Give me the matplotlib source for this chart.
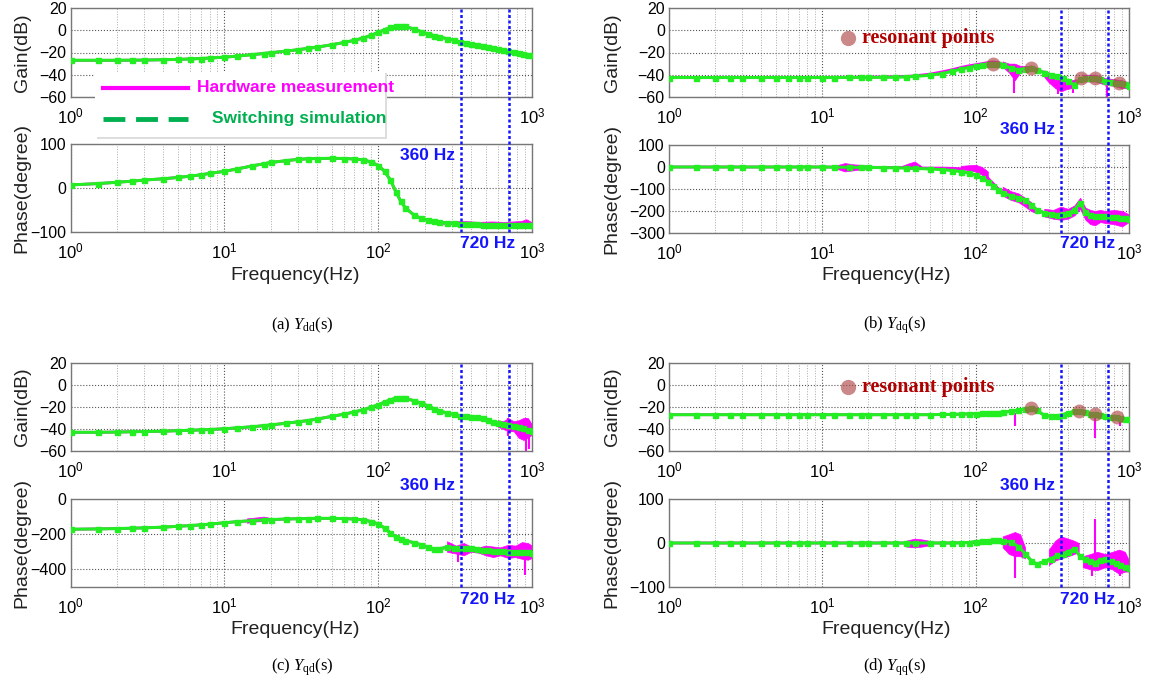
import matplotlib
matplotlib.use("Agg")
import matplotlib.pyplot as plt
from matplotlib.lines import Line2D
from matplotlib.patches import Rectangle
from matplotlib.ticker import LogLocator, NullFormatter

plt.rcParams['font.family'] = ['Liberation Sans', 'DejaVu Sans']
plt.rcParams['mathtext.fontset'] = 'custom'
plt.rcParams['mathtext.rm'] = 'Liberation Serif'
plt.rcParams['mathtext.it'] = 'Liberation Serif:italic'
plt.rcParams['mathtext.sf'] = 'Liberation Sans'

# frequency grid of the simulation points (Hz)
freq = [1, 1.5, 2, 2.5, 3, 4, 5, 6, 7, 8,
        10, 12, 15, 18, 20, 25, 30, 35, 40, 50,
        60, 70, 80, 90, 100, 110, 120, 130, 140, 150,
        170, 190, 210, 230, 250, 280, 310, 340, 370, 400,
        440, 480, 520, 560, 600, 650, 700, 760, 820, 880,
        940, 1000]

# (a) Ydd
gain_dd = [-27, -27, -27, -26.9, -26.8, -26.5, -26.2, -25.8, -25.4, -25,
           -24.2, -23.3, -22, -20.9, -20.2, -18.8, -17.5, -16.3, -15.2, -13,
           -11, -9, -7, -4.5, -2, 0.5, 2.5, 3.8, 4, 3.4,
           1.2, -1.2, -3.2, -4.8, -6, -7.6, -9, -10.4, -11.5, -12.4,
           -13.6, -14.5, -15.3, -16, -16.8, -17.7, -18.5, -19.4, -20.3, -21.1,
           -21.9, -22.6]
phase_dd = [7, 10, 13, 15.5, 18, 21, 24, 27, 30, 33,
            38, 43, 50, 55, 58, 62, 65, 66.5, 67, 67.5,
            67, 66, 64, 59, 51, 38, 18, -8, -30, -45,
            -61, -69, -73, -76, -78, -79.5, -80.5, -81, -81.5, -82,
            -82.5, -83, -83, -83.5, -83.5, -84, -84, -84.5, -84.5, -85,
            -85, -85]
hw_gain_dd = gain_dd
hw_phase_dd = phase_dd

# (b) Ydq
gain_dq = [-42.5, -42.5, -42.5, -42.5, -42.5, -42.5, -42.5, -42.5, -42.5, -42.5,
           -42.5, -42.5, -42.4, -42.4, -42.4, -42.3, -42.2, -42, -41.5, -40.5,
           -39, -37, -35, -33.5, -32.5, -31.5, -30.5, -30, -30.5, -31.5,
           -34, -35.5, -34.5, -33.5, -35.5, -38, -40, -41.5, -43, -46,
           -49, -44, -43, -43, -42.5, -44, -45.5, -46.5, -47, -47.5,
           -48.5, -50]
phase_dq = [0, 0, 0, 0, 0, 0, 0, 0, 0, 0,
            0, -1, -1, -2, -2, -3, -4, -5, -6, -9,
            -12, -16, -21, -28, -36, -50, -66, -85, -104, -117,
            -132, -139, -149, -172, -195, -208, -215, -216, -214, -210,
            -196, -162, -205, -218, -222, -223, -224, -226, -228, -231,
            -233, -235]
hw_gain_dq = [-42.5, -42.5, -42.5, -42.5, -42.5, -42.5, -42.5, -42.5, -42.5, -42.5,
              -42.5, -42.4, -42.3, -42.2, -42.2, -42, -41.8, -41.5, -41, -39.5,
              -37.5, -35.5, -33.5, -32, -31, -30, -29, -28.5, -29, -30.5,
              -33, -35, -34, -33, -35, -38, -41, -44, -46, -47,
              -49, -44, -43, -43, -42.5, -44, -46, -47, -47, -47.5,
              -48.5, -50]
hw_phase_dq = [0, 0, 0, 0, 0, 0, 0, 0, 0, 0,
               0, 0, -1, -1, -1, -2, -2, -3, -4, -5,
               -5, -6, -8, -12, -18, -30, -50, -75, -98, -115,
               -132, -139, -149, -172, -195, -208, -215, -216, -214, -210,
               -196, -162, -205, -218, -222, -223, -224, -226, -228, -231,
               -233, -235]

# (c) Yqd
gain_qd = [-43, -43, -42.8, -42.5, -42.3, -42, -41.5, -41.2, -40.8, -40.5,
           -39.8, -39, -38, -37, -36.3, -34.8, -33.5, -32.3, -31, -28.5,
           -26.5, -24.5, -22.5, -20.2, -18, -15.5, -13.5, -12, -11.5, -12.2,
           -14.2, -16.5, -19, -21.5, -23.5, -25.5, -26.8, -27.8, -28.5, -29,
           -29.5, -30.2, -32, -33.5, -34.8, -35.6, -36.2, -37, -38.2, -39.5,
           -40.8, -42]
phase_qd = [-172, -170, -168, -166, -164, -160, -155, -151, -147, -143,
            -135, -129, -123, -119, -117, -114, -112, -111, -110, -110,
            -111, -114, -119, -128, -142, -165, -193, -215, -228, -236,
            -248, -260, -272, -285, -282, -275, -276, -277, -279, -281,
            -285, -288, -291, -294, -296, -298, -299, -300, -301, -302,
            -303, -304]
hw_gain_qd = gain_qd
hw_phase_qd = phase_qd

# (d) Yqq
gain_qq = [-27, -27, -27, -27, -27, -27, -27, -27, -27, -27,
           -27, -27, -27, -27, -27, -27, -27, -27, -27, -27,
           -26.8, -26.7, -26.5, -26.3, -26, -25.8, -25.5, -25.3, -25, -24.8,
           -24, -23, -21.8, -21, -23, -27.5, -28.5, -28, -27, -25.5,
           -24, -23.5, -24.5, -26, -26.5, -27.5, -28.3, -29, -29.3, -30,
           -30.5, -31]
phase_qq = [0, 0, 0, 0, 0, 0, 0, 0, 0, 0,
            0, 0, 0, 0, 0, 0, 0, 0, 0, 0,
            0, 0, 0.5, 1, 3, 4, 5, 6, 6, 5,
            2, -8, -24, -40, -48, -42, -36, -28, -24, -20,
            -13, -30, -37, -40, -45, -38, -36, -40, -45, -50,
            -55, -57]
hw_gain_qq = gain_qq
hw_phase_qq = phase_qq

# noisy parts of the hardware measurement: (freqs, lower, upper)
noise_phase_dd = [([230, 300, 360, 450, 550, 650, 750, 850, 920, 1000],
                   [-80, -82, -84, -84, -85, -86, -86, -87, -90, -88],
                   [-74, -76, -75, -77, -76, -77, -76, -75, -71, -78])]
noise_gain_dq = [([150, 165, 180, 195, 210], [-33, -38, -45, -38, -36], [-28, -30, -30, -32, -32]),
                 ([280, 300, 330, 360, 390, 420, 450], [-42, -47, -52, -55, -53, -52, -48],
                  [-36, -38, -40, -42, -44, -45, -44]),
                 ([500, 600, 700, 800, 900, 1000], [-46, -46, -49, -50, -52, -52],
                  [-40, -40, -43, -44, -45, -47])]
noise_phase_dq = [([12, 14, 16, 18, 20], [-5, -20, -15, -10, -5], [5, 18, 12, 10, 5]),
                  ([33, 36, 40, 44], [-5, -8, -10, -5], [5, 15, 25, 5]),
                  ([80, 90, 100, 110, 120], [-8, -12, -20, -35, -55], [5, 8, 10, 0, -20]),
                  ([150, 170, 190, 210, 230, 250], [-130, -150, -160, -180, -200, -210],
                   [-90, -110, -120, -140, -160, -190]),
                  ([280, 320, 360, 400, 440, 480, 520, 560, 600, 650, 700, 800, 900, 1000],
                   [-225, -235, -240, -235, -220, -190, -240, -260, -265, -250, -255, -260, -270, -250],
                   [-190, -195, -180, -190, -175, -140, -185, -195, -200, -195, -200, -195, -200, -215])]
noise_gain_qd = [([600, 650, 700, 760, 820, 880, 940, 1000],
                  [-38, -40, -42, -42, -48, -50, -48, -45],
                  [-32, -33, -30, -33, -32, -30, -30, -36])]
noise_phase_qd = [([14, 16, 18, 20], [-135, -128, -125, -120], [-110, -105, -100, -108]),
                  ([280, 320, 360, 400, 450, 500, 560, 620, 700, 780, 860, 940, 1000],
                   [-300, -310, -320, -300, -305, -320, -330, -320, -335, -330, -340, -345, -335],
                   [-240, -265, -250, -270, -275, -265, -270, -275, -260, -265, -245, -250, -265])]
noise_gain_qq = []
noise_phase_qq = [([35, 40, 45, 50], [-8, -10, -8, -5], [5, 10, 8, 5]),
                  ([150, 165, 180, 195, 210], [-10, -25, -30, -30, -35], [15, 20, 25, 20, -10]),
                  ([300, 330, 360, 400, 440, 470], [-50, -40, -35, -30, -25, -20], [-15, 5, 15, 10, 5, 0]),
                  ([500, 560, 620, 700, 780, 860, 940, 1000], [-55, -60, -62, -55, -60, -70, -65, -65],
                   [-30, -25, -20, -25, -20, -15, -20, -40])]

# single spikes: (freq, low, high)
spikes_gain_dq = [(178, -56, -30), (345, -57, -42), (430, -56, -46), (720, -62, -44)]
spikes_gain_qd = [(700, -46, -30), (910, -60, -30), (960, -58, -32)]
spikes_phase_qd = [(330, -360, -280), (900, -430, -320)]
spikes_gain_qq = [(180, -37, -25), (600, -48, -26), (880, -37, -28)]
spikes_phase_qq = [(180, -80, 10), (600, -50, 55), (880, -75, -20), (570, -75, -40)]

# resonant points
res_f_dq = [130, 230, 485, 600, 860]
res_g_dq = [-30, -33.5, -43, -42.5, -47.5]
res_f_qq = [230, 472, 600, 835]
res_g_qq = [-21, -23.5, -26.5, -29]

# dotted frequency markers (placed as in the figure)
marks_left = [345, 710]
marks_right = [360, 730]

W, H = 1150, 686
fig = plt.figure(figsize=(11.5, 6.86), dpi=100)


def rect(l, r, t, b):
    return [l / W, 1 - b / H, (r - l) / W, (b - t) / H]


def ftext(x, y, s, **kw):
    return fig.text(x / W, 1 - y / H, s, **kw)


def style_ax(ax, ylim, yticks, xlabels):
    ax.set_xscale('log')
    ax.set_xlim(1, 1000)
    ax.set_ylim(*ylim)
    ax.set_yticks(yticks)
    ax.set_xticks([1, 10, 100, 1000])
    ax.set_xticklabels(xlabels)
    ax.xaxis.set_minor_locator(LogLocator(base=10, subs=range(2, 10)))
    ax.xaxis.set_minor_formatter(NullFormatter())
    ax.grid(True, which='major', axis='both', ls=':', color='#555555', lw=0.8)
    ax.grid(True, which='minor', axis='x', ls=':', color='#AAAAAA', lw=0.7)
    ax.tick_params(which='both', length=0)
    ax.tick_params(axis='x', labelsize=12, pad=7)
    ax.tick_params(axis='y', labelsize=11.5, pad=3)
    for s in ax.spines.values():
        s.set_color('#777777')
        s.set_linewidth(1)


def draw(ax, hw, sim, noise, spikes):
    ax.plot(freq, hw, color='#FF00FF', lw=2, zorder=2)
    for bf, lo, hi in noise:
        ax.fill_between(bf, lo, hi, color='#FF00FF', lw=0.5, zorder=2)
    for f, y0, y1 in spikes:
        ax.vlines(f, y0, y1, color='#FF00FF', lw=1.5, zorder=2)
    ax.plot(freq, sim, color='#22EE22', lw=2.2, marker='s', ms=3.6, mec='#22EE22', zorder=3)


decades = [r'$\mathsf{10^{%d}}$' % k for k in range(4)]
# in (a) the legend box hides the middle labels of the gain plot
decades_a = [decades[0], '', '', decades[3]]

panels = [
    dict(x=(70.7, 532), g=(8, 97), p=(144, 232), plim=(-100, 100), pticks=[-100, 0, 100],
         gain=(hw_gain_dd, gain_dd, [], []), phase=(hw_phase_dd, phase_dd, noise_phase_dd, []),
         glabels=decades_a,
         marks=marks_left, t360=(455, 155), t720=(460, 244), lab_x=22, freq_lab=(295, 276),
         cap=(302, 325, r'(a) $\mathit{Y}_{\mathrm{dd}}$(s)'), res=None),
    dict(x=(669, 1129), g=(8, 97), p=(145, 233), plim=(-300, 100), pticks=[-300, -200, -100, 0, 100],
         gain=(hw_gain_dq, gain_dq, noise_gain_dq, spikes_gain_dq),
         phase=(hw_phase_dq, phase_dq, noise_phase_dq, []),
         glabels=decades,
         marks=marks_right, t360=(1055, 130), t720=(1060, 244), lab_x=612, freq_lab=(886, 276),
         cap=(895, 325, r'(b) $\mathit{Y}_{\mathrm{dq}}$(s)'), res=(res_f_dq, res_g_dq, 38)),
    dict(x=(70.7, 532), g=(363, 451), p=(499, 587), plim=(-500, 0), pticks=[-400, -200, 0],
         gain=(hw_gain_qd, gain_qd, noise_gain_qd, spikes_gain_qd),
         phase=(hw_phase_qd, phase_qd, noise_phase_qd, spikes_phase_qd),
         glabels=decades,
         marks=marks_left, t360=(455, 485), t720=(460, 600), lab_x=22, freq_lab=(295, 630),
         cap=(302, 667, r'(c) $\mathit{Y}_{\mathrm{qd}}$(s)'), res=None),
    dict(x=(669, 1129), g=(363, 451), p=(499, 587), plim=(-100, 100), pticks=[-100, 0, 100],
         gain=(hw_gain_qq, gain_qq, noise_gain_qq, spikes_gain_qq),
         phase=(hw_phase_qq, phase_qq, noise_phase_qq, spikes_phase_qq),
         glabels=decades,
         marks=marks_right, t360=(1055, 485), t720=(1060, 600), lab_x=612, freq_lab=(886, 630),
         cap=(895, 667, r'(d) $\mathit{Y}_{\mathrm{qq}}$(s)'), res=(res_f_qq, res_g_qq, 387)),
]

blue = '#1414FF'
for pn in panels:
    l, r = pn['x']
    ax_g = fig.add_axes(rect(l, r, *pn['g']))
    ax_p = fig.add_axes(rect(l, r, *pn['p']))
    style_ax(ax_g, (-60, 20), [-60, -40, -20, 0, 20], pn['glabels'])
    style_ax(ax_p, pn['plim'], pn['pticks'], decades)
    draw(ax_g, *pn['gain'])
    draw(ax_p, *pn['phase'])

    # dotted lines run from the top of the gain plot to the bottom of the phase plot
    ymax = (pn['p'][1] - pn['g'][0]) / (pn['p'][1] - pn['p'][0])
    for f in pn['marks']:
        ax_p.axvline(f, ymin=0, ymax=ymax, clip_on=False, color=blue,
                     ls=(0, (1.2, 1.0)), lw=1.8, zorder=5)

    if pn['res'] is not None:
        rf, rg, ly = pn['res']
        ax_g.plot(rf, rg, 'o', ms=10, color='#B04848', alpha=0.65, mec='none', zorder=4)
        fig.add_artist(Line2D([848 / W], [1 - ly / H], marker='o', ms=11, color='#B04848',
                              alpha=0.65, mec='none'))
        ftext(862, ly, 'resonant points', family='Liberation Serif', weight='bold',
              size=14.5, color='#B00000', va='center')

    ftext(pn['t360'][0], pn['t360'][1], '360 Hz', color=blue, weight='bold', size=12.5,
          ha='right', va='center')
    ftext(pn['t720'][0], pn['t720'][1], '720 Hz', color=blue, weight='bold', size=12.5,
          ha='left', va='center')

    gy = (pn['g'][0] + pn['g'][1]) / 2
    py = (pn['p'][0] + pn['p'][1]) / 2
    ftext(pn['lab_x'], gy, 'Gain(dB)', rotation=90, size=14, ha='center', va='center', color='#222222')
    ftext(pn['lab_x'], py, 'Phase(degree)', rotation=90, size=14, ha='center', va='center', color='#222222')
    ftext(pn['freq_lab'][0], pn['freq_lab'][1], 'Frequency(Hz)', size=14, ha='center', va='center',
          color='#222222')
    cx, cy, ctext = pn['cap']
    ftext(cx, cy, ctext, family='Liberation Serif', size=12, ha='center', va='center')

# legend box in panel (a)
fig.add_artist(Rectangle((97 / W, 1 - 139 / H), 290 / W, 66 / H, facecolor='#DDDDDD',
                         edgecolor='none', zorder=10))
fig.add_artist(Rectangle((95 / W, 1 - 137 / H), 290 / W, 65 / H, facecolor='white',
                         edgecolor='none', zorder=11))
fig.add_artist(Line2D([103 / W, 188 / W], [1 - 88 / H] * 2, color='#FF00FF', lw=3, zorder=12))
fig.add_artist(Line2D([103 / W, 188 / W], [1 - 119 / H] * 2, color='#00B050', lw=3.5,
                      dashes=(4.5, 2.2), zorder=12))
ftext(296, 88, 'Hardware measurement', color='#FF00FF', size=12.5, weight='bold',
      ha='center', va='center', zorder=12)
ftext(299, 119, 'Switching simulation', color='#00B050', size=12.5, weight='bold',
      ha='center', va='center', zorder=12)

fig.savefig('out.png', dpi=100, facecolor='white')
